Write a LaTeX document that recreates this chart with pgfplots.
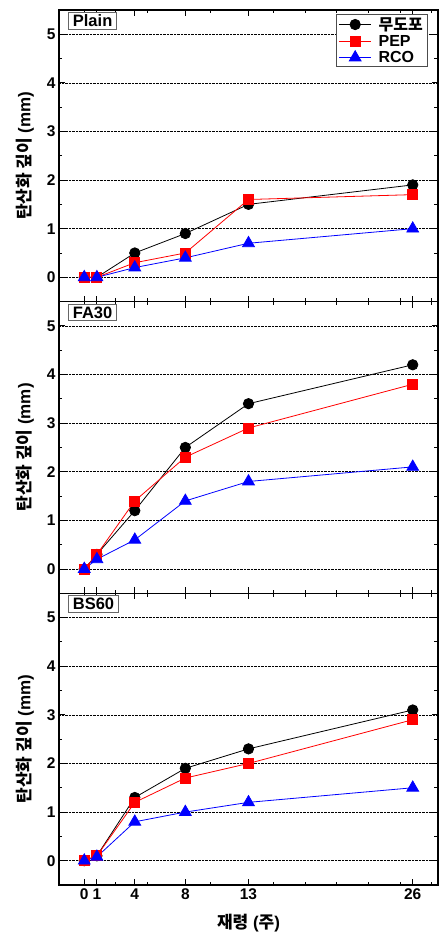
\documentclass[border=0pt]{standalone}
\usepackage{pgfplots}
\pgfplotsset{compat=1.18}
\usepackage{fontspec}
\setmainfont{Liberation Sans}
\newfontfamily\kr{Noto Sans CJK KR}

\tikzset{plab/.style={draw=black!60, line width=0.8pt, fill=white, inner xsep=4.5pt, inner ysep=2.5pt, anchor=north west, font=\bfseries\fontsize{16.5}{16.5}\selectfont}}

\pgfplotsset{
 panel/.style={
  width=379pt, height=291.7pt, scale only axis,
  xmin=-2, xmax=28, ymin=-0.5, ymax=5.5,
  xtick={0,1,4,8,13,26},
  minor xtick={2.5,5,10,15,17.5,20,22.5,25,27.5},
  ytick={0,1,2,3,4,5}, minor ytick={-0.5,0.5,1.5,2.5,3.5,4.5,5.5},
  tick align=inside,
  major tick length=6pt, minor tick length=3.5pt,
  ymajorgrids, grid style={black, densely dotted, line width=0.6pt},
  axis line style={line width=1.3pt},
  every tick/.style={black, line width=0.9pt},
  tick label style={font=\bfseries\fontsize{15.5}{15.5}\selectfont},
  /pgf/number format/assume math mode=true,
  ylabel={{\kr\bfseries 탄산화 깊이} (mm)},
  every axis y label/.style={at={(axis description cs:0,0.5)}, rotate=90, anchor=center, yshift=34pt, font=\bfseries\fontsize{17}{17}\selectfont},
  every axis plot/.append style={line width=0.8pt},
  legend image code/.code={\draw[mark repeat=2,mark phase=2] plot coordinates {(0pt,0pt) (16pt,0pt) (32pt,0pt)};},
 },
 s1/.style={black, mark=*, mark size=5.2pt, mark options={fill=black}},
 s2/.style={red, mark=square*, mark size=5pt, mark options={fill=red}},
 s3/.style={blue, mark=triangle*, mark size=6.8pt, mark options={fill=blue}},
}

\begin{document}
\begin{tikzpicture}
\useasboundingbox (-59pt,-47pt) rectangle (386pt,885pt);

% Panel 1: Plain
\begin{axis}[panel, at={(0pt,583.4pt)}, anchor=south west, xticklabels={},
  legend style={at={(0.974,0.986)}, anchor=north east, draw=black!70, line width=0.8pt,
  font=\bfseries\fontsize{16}{16}\selectfont, inner xsep=2pt, inner ysep=1.5pt, row sep=0.5pt,
  nodes={inner ysep=1.5pt, inner xsep=3pt}},
  legend cell align=left]
\addplot[s1] coordinates {(0,0) (1,0) (4,0.5) (8,0.9) (13,1.5) (26,1.9)};
\addlegendentry{\hspace{4pt}{\kr\bfseries 무도포}}
\addplot[s2] coordinates {(0,0) (1,0) (4,0.3) (8,0.5) (13,1.6) (26,1.7)};
\addlegendentry{\hspace{4pt}PEP}
\addplot[s3] coordinates {(0,0) (1,0) (4,0.2) (8,0.4) (13,0.7) (26,1.0)};
\addlegendentry{\hspace{4pt}RCO}
\node[plab] at ([xshift=9pt,yshift=-2pt]rel axis cs:0,1) {Plain};
\end{axis}

% Panel 2: FA30
\begin{axis}[panel, at={(0pt,291.7pt)}, anchor=south west, xticklabels={}]
\addplot[s1] coordinates {(0,0) (1,0.3) (4,1.2) (8,2.5) (13,3.4) (26,4.2)};
\addplot[s2] coordinates {(0,0) (1,0.3) (4,1.4) (8,2.3) (13,2.9) (26,3.8)};
\addplot[s3] coordinates {(0,0) (1,0.2) (4,0.6) (8,1.4) (13,1.8) (26,2.1)};
\node[plab] at ([xshift=9pt,yshift=-2pt]rel axis cs:0,1) {FA30};
\end{axis}

% Panel 3: BS60
\begin{axis}[panel, at={(0pt,0pt)}, anchor=south west,
  xlabel={{\kr\bfseries 재령} ({\kr\bfseries 주})},
  every axis x label/.style={at={(axis description cs:0.5,0)}, anchor=center, yshift=-38pt, font=\bfseries\fontsize{17}{17}\selectfont}]
\addplot[s1] coordinates {(0,0) (1,0.1) (4,1.3) (8,1.9) (13,2.3) (26,3.1)};
\addplot[s2] coordinates {(0,0) (1,0.1) (4,1.2) (8,1.7) (13,2.0) (26,2.9)};
\addplot[s3] coordinates {(0,0) (1,0.08) (4,0.8) (8,1.0) (13,1.2) (26,1.5)};
\node[plab] at ([xshift=9pt,yshift=-2pt]rel axis cs:0,1) {BS60};
\end{axis}
\end{tikzpicture}
\end{document}
